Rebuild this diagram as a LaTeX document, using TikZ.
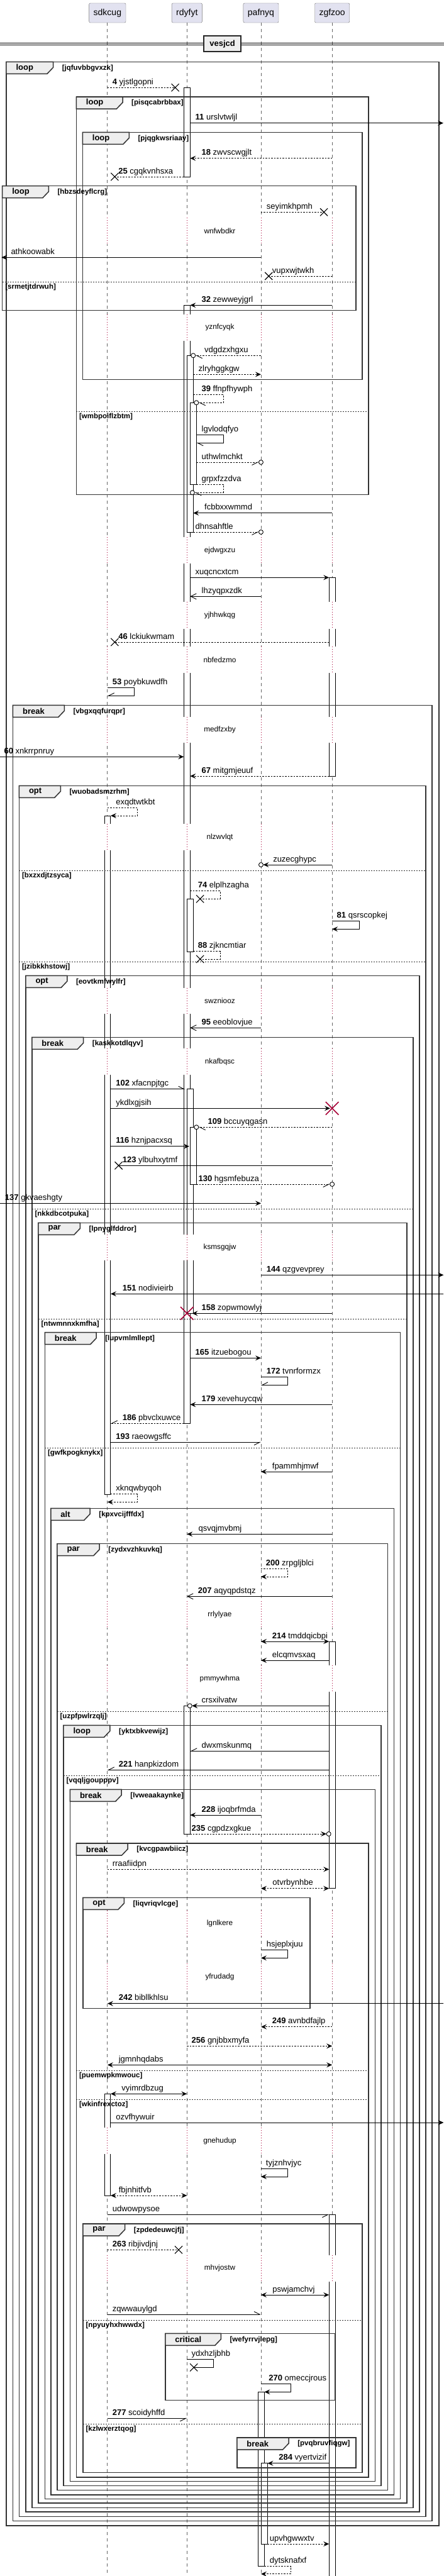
\documentclass[tikz,border=0pt]{standalone}
\usepackage{fontspec}
\setmainfont{Liberation Sans}
\usetikzlibrary{arrows.meta,shapes.misc}
\definecolor{partfill}{HTML}{E2E2F0}
\definecolor{tabfill}{HTML}{EEEEEE}
\definecolor{delayred}{HTML}{A80036}
\tikzset{
  partbox/.style={draw=black!55, fill=partfill, rounded corners=2pt, minimum height=31pt,
    inner xsep=7pt, font=\fontsize{14}{16}\selectfont},
  divbox/.style={draw=black!85, fill=tabfill, line width=1.5pt, minimum width=59pt,
    minimum height=25pt, font=\bfseries\fontsize{13}{15}\selectfont},
  lifeline/.style={draw=black!60, line width=.8pt, dash pattern=on 5pt off 5pt},
  delayline/.style={draw=delayred, line width=.8pt, dash pattern=on 1pt off 3pt},
  delaytxt/.style={inner sep=0pt, font=\fontsize{11.8}{13}\selectfont},
  actbar/.style={draw=black, fill=white, line width=.9pt},
  msg/.style={draw=black, line width=.9pt},
  dashmsg/.style={msg, dash pattern=on 2.5pt off 2pt},
  fillhd/.style={-{Stealth[length=9pt,width=8pt,inset=3.5pt]}},
  bothhd/.style={{Stealth[length=9pt,width=8pt,inset=3.5pt]}-{Stealth[length=9pt,width=8pt,inset=3.5pt]}},
  openhd/.style={-{Straight Barb[length=9pt,width=9pt]}},
  barbl/.style={-{Straight Barb[left,length=9pt,width=9pt]}},
  barbr/.style={-{Straight Barb[right,length=9pt,width=9pt]}},
  tocirc/.style={shorten >=3.5pt},
  lost/.style={draw, cross out, line width=1.1pt, minimum size=11pt, inner sep=0pt},
  kill/.style={draw=delayred, cross out, line width=1.6pt, minimum size=19pt, inner sep=0pt},
  ring/.style={draw, circle, fill=white, line width=.9pt, minimum size=7pt, inner sep=0pt},
  lbl/.style={anchor=base west, inner sep=0pt, font=\fontsize{13}{15}\selectfont},
  frameline/.style={draw=black!80, line width=1.5pt},
  sepline/.style={draw=black!80, line width=.8pt, dash pattern=on 2pt off 2pt},
  tabbox/.style={draw=black!80, fill=tabfill, line width=1.5pt},
  tabtxt/.style={anchor=west, inner sep=0pt, font=\bfseries\fontsize{13}{15}\selectfont},
  condtxt/.style={anchor=west, inner sep=0pt, font=\bfseries\fontsize{11.5}{13}\selectfont}
}
% name, y, x from, x to, style, label x, label
\newcommand{\seqmsg}[7]{%
  \draw[#5] (#3,#2) -- (#4,#2);
  \node[lbl] (#1) at (#6,#2-5) {#7};%
}
% name, x from, y top, x out, y bottom, x back, style, label x, label
\newcommand{\seqself}[9]{%
  \draw[#7] (#2,#3) -- (#4,#3) -- (#4,#5) -- (#6,#5);
  \node[lbl] (#1) at (#8,#3-5) {#9};%
}
% name, x0, x1, y top, y bottom, kind, tab width, condition
\newcommand{\seqframe}[8]{%
  \draw[frameline] (#2,#4) rectangle (#3,#5);
  \draw[tabbox] (#2,#4) -- ++(#7,0) -- ++(0,9) -- ++(-7,10) -- (#2,#4+19) -- cycle;
  \node[tabtxt] (#1) at (#2+11.3,#4+9.5) {#6};
  \node[condtxt] (#1c) at (#2+#7+10.3,#4+10) {#8};%
}
\newcommand{\seqsep}[5]{%
  \draw[sepline] (#2,#4) -- (#3,#4);
  \node[condtxt] (#1) at (#2+3.3,#4+8.5) {#5};%
}
\newcommand{\seqdelay}[4]{%
  \foreach \lx in {125.3,218,304.3,387.3}{%
    \fill[white] (\lx-12,#2) rectangle (\lx+12,#3);
    \draw[delayline] (\lx,#2) -- (\lx,#3);}
  \node[delaytxt] (#1) at (256.3,{(#2+#3)/2}) {#4};%
}

\begin{document}
\begin{tikzpicture}[x=1.36364pt,y=-1pt]
\useasboundingbox (0,0) rectangle (517.73,4096);
\fill[white] (0,0) rectangle (517.73,4096);

% Participants and lifelines
\node[partbox] (sdkcug) at (125.3,20.5) {sdkcug};
\node[partbox] (rdyfyt) at (218,20.5) {rdyfyt};
\node[partbox] (pafnyq) at (304.3,20.5) {pafnyq};
\node[partbox] (zgfzoo) at (387.3,20.5) {zgfzoo};
\foreach \p in {sdkcug,rdyfyt,pafnyq,zgfzoo}{\draw[lifeline] (\p.south) -- (\p.south |- 0,4096);}

% Divider
\draw[line width=1pt] (0,68.3) -- (517.73,68.3) (0,71.7) -- (517.73,71.7);
\node[divbox] (vesjcd) at (259.3,69.7) {vesjcd};

% Activations
\draw[actbar] (214.3,139.3) rectangle (221.7,281);
\draw[actbar] (214.3,485.3) rectangle (221.7,2263.3);
\draw[actbar] (218,565.3) rectangle (225.3,846);
\draw[actbar] (221.7,640.3) rectangle (229,770.7);
\draw[actbar] (218,1429.3) rectangle (225.3,1513.3);
\draw[actbar] (218,1731.7) rectangle (225.3,2088.3);
\draw[actbar] (221.7,1792.3) rectangle (229,1883);
\draw[actbar] (214.3,2712.3) rectangle (221.7,2916.7);
\draw[actbar] (121.7,1297) rectangle (129,2376);
\draw[actbar] (121.7,3329.3) rectangle (129,3491);
\draw[actbar] (383.7,918.3) rectangle (391,1234);
\draw[actbar] (383.7,2610) rectangle (391,3002.7);
\draw[actbar] (383.7,3521.3) rectangle (391,4110);
\draw[actbar] (301,3803.3) rectangle (308.3,4080.7);
\draw[actbar] (304.7,3916.7) rectangle (312,4045);

% Delays
\seqdelay{d1}{346.3}{388.3}{wnfwbdkr}
\seqdelay{d2}{500}{541.7}{yznfcyqk}
\seqdelay{d3}{854}{896}{ejdwgxzu}
\seqdelay{d4}{956.7}{1000.3}{yjhhwkqg}
\seqdelay{d5}{1028.3}{1070}{nbfedzmo}
\seqdelay{d6}{1140}{1181}{medfzxby}
\seqdelay{d7}{1310}{1352.3}{nlzwvlqt}
\seqdelay{d8}{1570.7}{1611.7}{swzniooz}
\seqdelay{d9}{1667.3}{1709.3}{nkafbqsc}
\seqdelay{d10}{1963.3}{2004}{ksmsgqjw}
\seqdelay{d11}{2545.7}{2588.3}{rrlylyae}
\seqdelay{d12}{2648.3}{2690}{pmmywhma}
\seqdelay{d13}{3037.5}{3079}{lgnlkere}
\seqdelay{d14}{3122}{3164}{yfrudadg}
\seqdelay{d15}{3383.3}{3425}{gnehudup}
\seqdelay{d16}{3585.7}{3627.7}{mhvjostw}

% Fragments
\seqframe{f1}{7.3}{511.7}{98.3}{4015.7}{loop}{54.7}{[jqfuvbbgvxzk]}
\seqframe{f2}{89}{429.7}{154}{786.7}{loop}{54}{[pisqcabrbbax]}
\seqsep{s2}{89}{429.7}{654}{[wmbpoiflzbtm]}
\seqframe{f3}{96.3}{422.3}{210.3}{603.3}{loop}{54.3}{[pjqgkwsriaay]}
\seqframe{f4}{2.7}{415}{295.7}{493.3}{loop}{54}{[hbzsdeyflcrg]}
\seqsep{s4}{2.7}{415}{448.3}{[srmetjtdrwuh]}
\seqframe{f5}{15}{503.7}{1121.3}{4008.3}{break}{60}{[vbgxqqfurqpr]}
\seqframe{f6}{22.3}{496.3}{1249.3}{4001.3}{opt}{48.3}{[wuobadsmzrhm]}
\seqsep{s6a}{22.3}{496.3}{1384.3}{[bxzxdjtzsyca]}
\seqsep{s6b}{22.3}{496.3}{1529.3}{[jzibkkhstowj]}
\seqframe{f7}{30}{489}{1551.3}{3994}{opt}{48.3}{[eovtkmfwylfr]}
\seqframe{f8}{37.3}{481.7}{1649.3}{3987.3}{break}{60}{[kaskkotdlqyv]}
\seqsep{s8}{37.3}{481.7}{1922.3}{[nkkdbcotpuka]}
\seqframe{f9}{44.7}{474.3}{1944.3}{3980}{par}{48.7}{[lpnyglfddror]}
\seqsep{s9}{44.7}{474.3}{2097.3}{[ntwmnnxkmfha]}
\seqframe{f10}{52.3}{466.7}{2118.7}{3973.3}{break}{60}{[lupvmlmllept]}
\seqsep{s10}{52.3}{466.7}{2302.3}{[gwfkpogknykx]}
\seqframe{f11}{59.3}{459.3}{2398.3}{3966.7}{alt}{45.7}{[kpxvcijfffdx]}
\seqframe{f12}{66.7}{452}{2454.7}{3959.3}{par}{49.3}{[zydxvzhkuvkq]}
\seqsep{s12}{66.7}{452}{2721}{[uzpfpwlrzqlj]}
\seqframe{f13}{74}{444.3}{2743.3}{3952.3}{loop}{54.3}{[yktxbkvewijz]}
\seqsep{s13}{74}{444.3}{2823.3}{[vqqljgoupppv]}
\seqframe{f14}{81.7}{437.3}{2845.3}{3945.3}{break}{60}{[lvweaakaynke]}
\seqframe{f15}{89}{429.7}{2931}{3938.7}{break}{60}{[kvcgpawbiicz]}
\seqsep{s15a}{89}{429.7}{3292.3}{[puemwpkmwouc]}
\seqsep{s15b}{89}{429.7}{3338.3}{[wkinfrexctoz]}
\seqframe{f16}{96.7}{361.7}{3017.3}{3193.3}{opt}{48}{[liqvriqvlcge]}
\seqframe{f17}{96.7}{422.3}{3536}{3931.3}{par}{49}{[zpdedeuwcjfj]}
\seqsep{s17a}{96.7}{422.3}{3689}{[npyuyhxhwwdx]}
\seqsep{s17b}{96.7}{422.3}{3854.3}{[kzlwxerztqog]}
\seqframe{f18}{192.7}{390.7}{3710.3}{3816.3}{critical}{65}{[wefyrrvjlepg]}
\seqframe{f19}{276.3}{415}{3876}{3924}{break}{60.4}{[pvqbruvfiqgw]}

% Messages
\seqmsg{m4}{139.3}{125.3}{204.3}{dashmsg}{131}{\textbf{4} yjstlgopni}
\node[lost] (x4) at (204.3,139.3) {};
\seqmsg{m11}{195.7}{221.7}{517}{msg,fillhd}{227.7}{\textbf{11} urslvtwljl}
\seqmsg{m18}{251.7}{387.3}{221.7}{dashmsg,fillhd}{235}{\textbf{18} zwvscwgjlt}
\seqmsg{m25}{281}{214.3}{133.7}{dashmsg}{138}{\textbf{25} cgqkvnhsxa}
\node[lost] (x25) at (133.7,281) {};
\seqmsg{m26}{337.3}{304.3}{377.7}{dashmsg}{310.7}{seyimkhpmh}
\node[lost] (x26) at (377.7,337.3) {};
\seqmsg{m27}{409.3}{304.3}{1.7}{msg,fillhd}{12.7}{athkoowabk}
\seqmsg{m28}{439}{387.3}{313.3}{dashmsg}{317.3}{vupxwjtwkh}
\node[lost] (x28) at (313.3,439) {};
\seqmsg{m32}{485.3}{387.3}{221.7}{msg,fillhd}{235}{\textbf{32} zewweyjgrl}
\seqmsg{m33}{565.3}{304.3}{225.3}{dashmsg,barbl,tocirc}{238.3}{vdgdzxhgxu}
\node[ring] (o33) at (225.3,565.3) {};
\seqmsg{m34}{595.3}{225.3}{304.3}{dashmsg,fillhd}{231.3}{zlryhggkgw}
\seqself{m39}{225.3}{627.3}{260.3}{640.3}{229}{dashmsg,barbl,tocirc}{235}{\textbf{39} ffnpfhywph}
\node[ring] (o39) at (229,640.3) {};
\seqself{m40}{229}{691.7}{260.3}{704.3}{229}{msg,barbl}{235}{lgvlodqfyo}
\seqmsg{m41}{735}{229}{304.3}{dashmsg,barbr,tocirc}{235}{uthwlmchkt}
\node[ring] (o41) at (304.3,735) {};
\seqself{m42}{229}{770}{260.3}{783.3}{224.3}{dashmsg,barbl,tocirc}{235}{grpxfzzdva}
\node[ring] (o42) at (224.3,783.3) {};
\seqmsg{m43}{815.7}{387.3}{225.3}{msg,fillhd}{238.3}{fcbbxxwmmd}
\seqmsg{m44}{846}{225.3}{304.3}{dashmsg,barbr,tocirc}{227.7}{dhnsahftle}
\node[ring] (o44) at (304.3,846) {};
\seqmsg{m45}{918.3}{221.7}{383.7}{msg,fillhd}{227.7}{xuqcncxtcm}
\seqmsg{m45b}{948.3}{304.3}{221.7}{msg,openhd}{235}{lhzyqpxzdk}
\seqmsg{m46}{1021}{383.7}{133.7}{dashmsg}{138}{\textbf{46} lckiukwmam}
\node[lost] (x46) at (133.7,1021) {};
\seqself{m53}{125.3}{1093.3}{156.3}{1106.3}{125.3}{msg,barbr}{131}{\textbf{53} poybkuwdfh}
\seqmsg{m60}{1203.3}{0}{214.3}{msg,fillhd}{4.7}{\textbf{60} xnkrrpnruy}
\seqmsg{m67}{1234}{383.7}{221.7}{dashmsg,fillhd}{235}{\textbf{67} mitgmjeuuf}
\seqself{m68}{125.3}{1284.3}{160.3}{1297}{129}{dashmsg,fillhd}{135}{exqdtwtkbt}
\seqmsg{m69}{1375}{387.3}{304.3}{msg,fillhd,tocirc}{318.3}{zuzecghypc}
\node[ring] (o69) at (304.3,1375) {};
\seqself{m74}{221.7}{1416.7}{256.7}{1429.3}{233.3}{dashmsg}{230.7}{\textbf{74} elplhzagha}
\node[lost] (x74) at (233.3,1429.3) {};
\seqself{m81}{387.3}{1464.7}{418.7}{1477.3}{387.3}{msg,fillhd}{392.7}{\textbf{81} qsrscopkej}
\seqself{m88}{225.3}{1512.7}{256.7}{1525}{233.3}{dashmsg}{230.7}{\textbf{88} zjkncmtiar}
\node[lost] (x88) at (233.3,1525) {};
\seqmsg{m95}{1634.3}{304.3}{221.7}{msg,openhd}{235}{\textbf{95} eeoblovjue}
\seqmsg{m102}{1731.7}{129}{216}{msg,barbl}{135}{\textbf{102} xfacnpjtgc}
\seqmsg{m103}{1762.3}{129}{385}{msg,fillhd}{135}{ykdlxgjsih}
\node[kill] (k103) at (387.3,1762.3) {};
\seqmsg{m109}{1792.3}{387.3}{229}{dashmsg,barbl,tocirc}{242.3}{\textbf{109} bccuyqgasn}
\node[ring] (o109) at (229,1792.3) {};
\seqmsg{m116}{1822.7}{129}{220.7}{msg,fillhd}{135}{\textbf{116} hznjpacxsq}
\seqmsg{m123}{1853.3}{387.3}{138.3}{msg}{142.7}{\textbf{123} ylbuhxytmf}
\node[lost] (x123) at (138.3,1853.3) {};
\seqmsg{m130}{1883}{229}{387.3}{dashmsg,barbr,tocirc}{231.3}{\textbf{130} hgsmfebuza}
\node[ring] (o130) at (387.3,1883) {};
\seqmsg{m137}{1913.3}{0}{304.3}{msg,fillhd}{5.7}{\textbf{137} gkvaeshgty}
\seqmsg{m144}{2027.3}{304.3}{517.3}{msg,fillhd}{310.7}{\textbf{144} qzgvevprey}
\seqmsg{m151}{2057.3}{517.3}{129}{msg,fillhd}{142.7}{\textbf{151} nodivieirb}
\seqmsg{m158}{2088.3}{387.3}{224}{msg,fillhd}{235}{\textbf{158} zopwmowlyj}
\node[kill] (k158) at (218,2088.3) {};
\seqmsg{m165}{2159.3}{221.7}{304.3}{msg,fillhd}{227.7}{\textbf{165} itzuebogou}
\seqself{m172}{304.3}{2189.7}{335.3}{2202.3}{304.3}{msg,barbr}{310.7}{\textbf{172} tvnrformzx}
\seqmsg{m179}{2233.3}{387.3}{221.7}{msg,fillhd}{235}{\textbf{179} xevehuycqw}
\seqmsg{m186}{2263.3}{214.3}{129}{dashmsg,barbr}{142.7}{\textbf{186} pbvclxuwce}
\seqmsg{m193}{2293.3}{129}{304.3}{msg,barbr}{135}{\textbf{193} raeowgsffc}
\seqmsg{m194}{2340}{387.3}{304.3}{msg,fillhd}{317.3}{fpammhjmwf}
\seqself{m195}{129}{2375.7}{160.3}{2388.3}{125.3}{dashmsg,fillhd}{135}{xknqwbyqoh}
\seqmsg{m196}{2439.3}{387.3}{218}{msg,fillhd}{231.3}{qsvqjmvbmj}
\seqself{m200}{304.3}{2494.3}{335.3}{2507}{304.3}{dashmsg,fillhd}{310}{\textbf{200} zrpgljblci}
\seqmsg{m207}{2538.3}{387.3}{218}{msg,openhd}{230.7}{\textbf{207} aqyqpdstqz}
\seqmsg{m214}{2610}{304.3}{383.7}{msg,bothhd}{317.3}{\textbf{214} tmddqicbpi}
\seqmsg{m215}{2640}{383.7}{304.3}{msg,fillhd}{317.3}{elcqmvsxaq}
\seqmsg{m216}{2712.3}{383.7}{221.3}{msg,fillhd,tocirc}{235}{crsxilvatw}
\node[ring] (o216) at (221.3,2712.3) {};
\seqmsg{m217}{2784.3}{383.7}{221.7}{msg,barbr}{235}{dwxmskunmq}
\seqmsg{m221}{2814.3}{383.7}{125.3}{msg,barbr}{138.3}{\textbf{221} hanpkizdom}
\seqmsg{m228}{2886}{304.3}{221.7}{msg,fillhd}{235}{\textbf{228} ijoqbrfmda}
\seqmsg{m235}{2916}{221.7}{383.3}{dashmsg,fillhd,tocirc}{223.3}{\textbf{235} cgpdzxgkue}
\node[ring] (o235) at (383.3,2916) {};
\seqmsg{m236}{2972.3}{125.3}{383.7}{dashmsg,fillhd}{131}{rraafiidpn}
\seqmsg{m237}{3002.7}{304.3}{383.7}{dashmsg,bothhd}{317.7}{otvrbynhbe}
\seqself{m238}{304.3}{3100.7}{335.3}{3113.3}{304.3}{msg,fillhd}{310.7}{hsjeplxjuu}
\seqmsg{m242}{3185.7}{517.3}{125.3}{msg,fillhd}{138.3}{\textbf{242} bibllkhlsu}
\seqmsg{m249}{3222.7}{387.3}{304.3}{dashmsg,fillhd}{317.3}{\textbf{249} avnbdfajlp}
\seqmsg{m256}{3253.3}{218}{387.3}{dashmsg,fillhd}{223.3}{\textbf{256} gnjbbxmyfa}
\seqmsg{m257}{3283.3}{125.3}{387.3}{msg,bothhd}{138.3}{jgmnhqdabs}
\seqmsg{m258}{3329.3}{129}{218}{msg,bothhd}{141.7}{vyimrdbzug}
\seqmsg{m259}{3375}{129}{517.3}{msg,fillhd}{135}{ozvfhywuir}
\seqself{m260}{304.3}{3448.3}{335.3}{3461}{304.3}{msg,fillhd}{310}{tyjznhvjyc}
\seqmsg{m261}{3491}{129}{218}{dashmsg,bothhd}{138.3}{fbjnhitfvb}
\seqmsg{m262}{3521.3}{125.3}{383.7}{msg,barbr}{131}{udwowpysoe}
\seqmsg{m263}{3577.3}{125.3}{208.3}{dashmsg}{131}{\textbf{263} ribjivdjnj}
\node[lost] (x263) at (208.3,3577.3) {};
\seqmsg{m264}{3649}{304.3}{383.7}{msg,bothhd}{317.7}{pswjamchvj}
\seqmsg{m265}{3680}{125.3}{304.3}{msg,barbl}{131}{zqwwauylgd}
\seqself{m266}{218}{3751.7}{249}{3764.3}{226}{msg}{223.3}{ydxhzljbhb}
\node[lost] (x266) at (226,3764.3) {};
\seqself{m270}{304.3}{3790.7}{339.3}{3803.3}{308.3}{msg,fillhd}{313.3}{\textbf{270} omeccjrous}
\seqmsg{m277}{3845.3}{125.3}{218}{msg,barbr}{131}{\textbf{277} scoidyhffd}
\seqmsg{m284}{3916.7}{383.7}{312}{msg,fillhd}{325}{\textbf{284} vyertvizif}
\seqmsg{m285}{4045}{312}{383.7}{dashmsg,fillhd}{314.3}{upvhgwwxtv}
\seqself{m286}{308.3}{4080.7}{339.3}{4092.7}{304.3}{dashmsg,fillhd}{314.3}{dytsknafxf}

\end{tikzpicture}
\end{document}
